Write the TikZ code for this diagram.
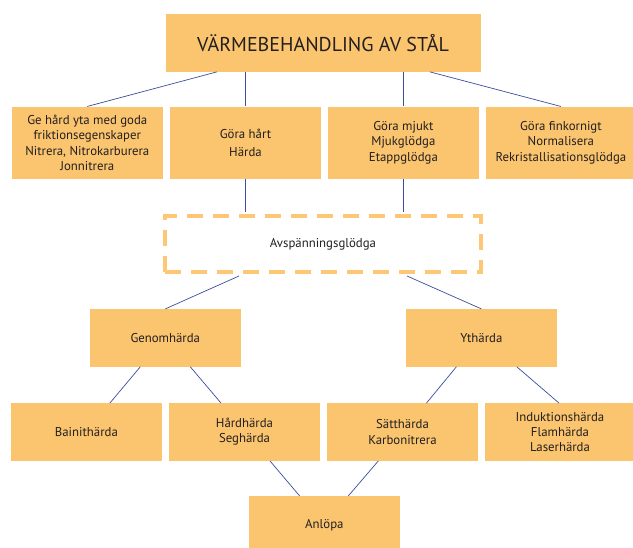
\documentclass[tikz,border=0pt]{standalone}
\usepackage{fontspec}
\setmainfont{PT Sans}
\definecolor{boxfill}{HTML}{FBC46E}
\definecolor{linkblue}{HTML}{3B4E9C}
\definecolor{dashc}{HTML}{FDC776}
\definecolor{txt}{HTML}{231F20}
\begin{document}
\begin{tikzpicture}[x=1pt,y=-1pt,
 box/.style={fill=boxfill, draw=none, minimum width=150.7pt, minimum height=57.5pt, align=center, inner sep=0pt, text=txt, font=\fontsize{12.8}{15.3}\selectfont},
 tallbox/.style={box, minimum height=72.3pt},
 link/.style={draw=linkblue, line width=0.7pt},
 dashbox/.style={draw=dashc, line width=4pt, dash pattern=on 16pt off 10pt, minimum width=316pt, minimum height=56pt, inner sep=0pt, text=txt, font=\fontsize{12.8}{15.3}\selectfont},
]
\fill[white] (0,0) rectangle (633,548);
\useasboundingbox (0,0) rectangle (633,548);

\node[box, minimum width=315pt, minimum height=57.7pt, font=\fontsize{20}{24}\selectfont] (top) at (323,42.85) {VÄRMEBEHANDLING AV STÅL};

\node[tallbox] (a1) at (87.3,142.8) {Ge hård yta med goda\\friktionsegenskaper\\Nitrera, Nitrokarburera\\Jonnitrera};
\node[tallbox] (a2) at (245.5,142.8) {Göra hårt\\[3pt]Härda};
\node[tallbox] (a3) at (403.4,142.8) {Göra mjukt\\Mjukglödga\\Etappglödga};
\node[tallbox] (a4) at (560.9,142.8) {Göra finkornigt\\Normalisera\\Rekristallisationsglödga};

\node[dashbox] (dash) at (323,244) {Avspänningsglödga};

\node[box] (g) at (165.3,337.85) {Genomhärda};
\node[box] (y) at (481.4,337.85) {Ythärda};

\node[box] (b1) at (86.4,432) {Bainithärda};
\node[box] (b2) at (244.5,432) {Hårdhärda\\Seghärda};
\node[box] (b3) at (402.5,432) {Sätthärda\\Karbonitrera};
\node[box] (b4) at (560,432) {Induktionshärda\\Flamhärda\\Laserhärda};

\node[box] (anl) at (324.35,524.85) {Anlöpa};

\draw[link] ([xshift=-106.2pt]top.south) -- (a1.north);
\draw[link] (top.south -| a2.north) -- (a2.north);
\draw[link] (top.south -| a3.north) -- (a3.north);
\draw[link] ([xshift=107pt]top.south) -- (a4.north);
\draw[link] (a2.south) -- ([yshift=2pt]a2.south |- dash.north);
\draw[link] (a3.south) -- ([yshift=2pt]a3.south |- dash.north);
\draw[link] ([xshift=-84pt,yshift=-2pt]dash.south) -- (g.north);
\draw[link] ([xshift=84pt,yshift=-2pt]dash.south) -- (y.north);
\draw[link] ([xshift=-25pt]g.south) -- ([xshift=23.5pt]b1.north);
\draw[link] ([xshift=25pt]g.south) -- ([xshift=-23.5pt]b2.north);
\draw[link] ([xshift=-25pt]y.south) -- ([xshift=24pt]b3.north);
\draw[link] ([xshift=35.4pt]y.south) -- ([xshift=-1pt]b4.north);
\draw[link] ([xshift=25.5pt]b2.south) -- ([xshift=-24.75pt]anl.north);
\draw[link] ([xshift=-24.2pt]b3.south) -- ([xshift=24pt]anl.north);
\end{tikzpicture}
\end{document}
